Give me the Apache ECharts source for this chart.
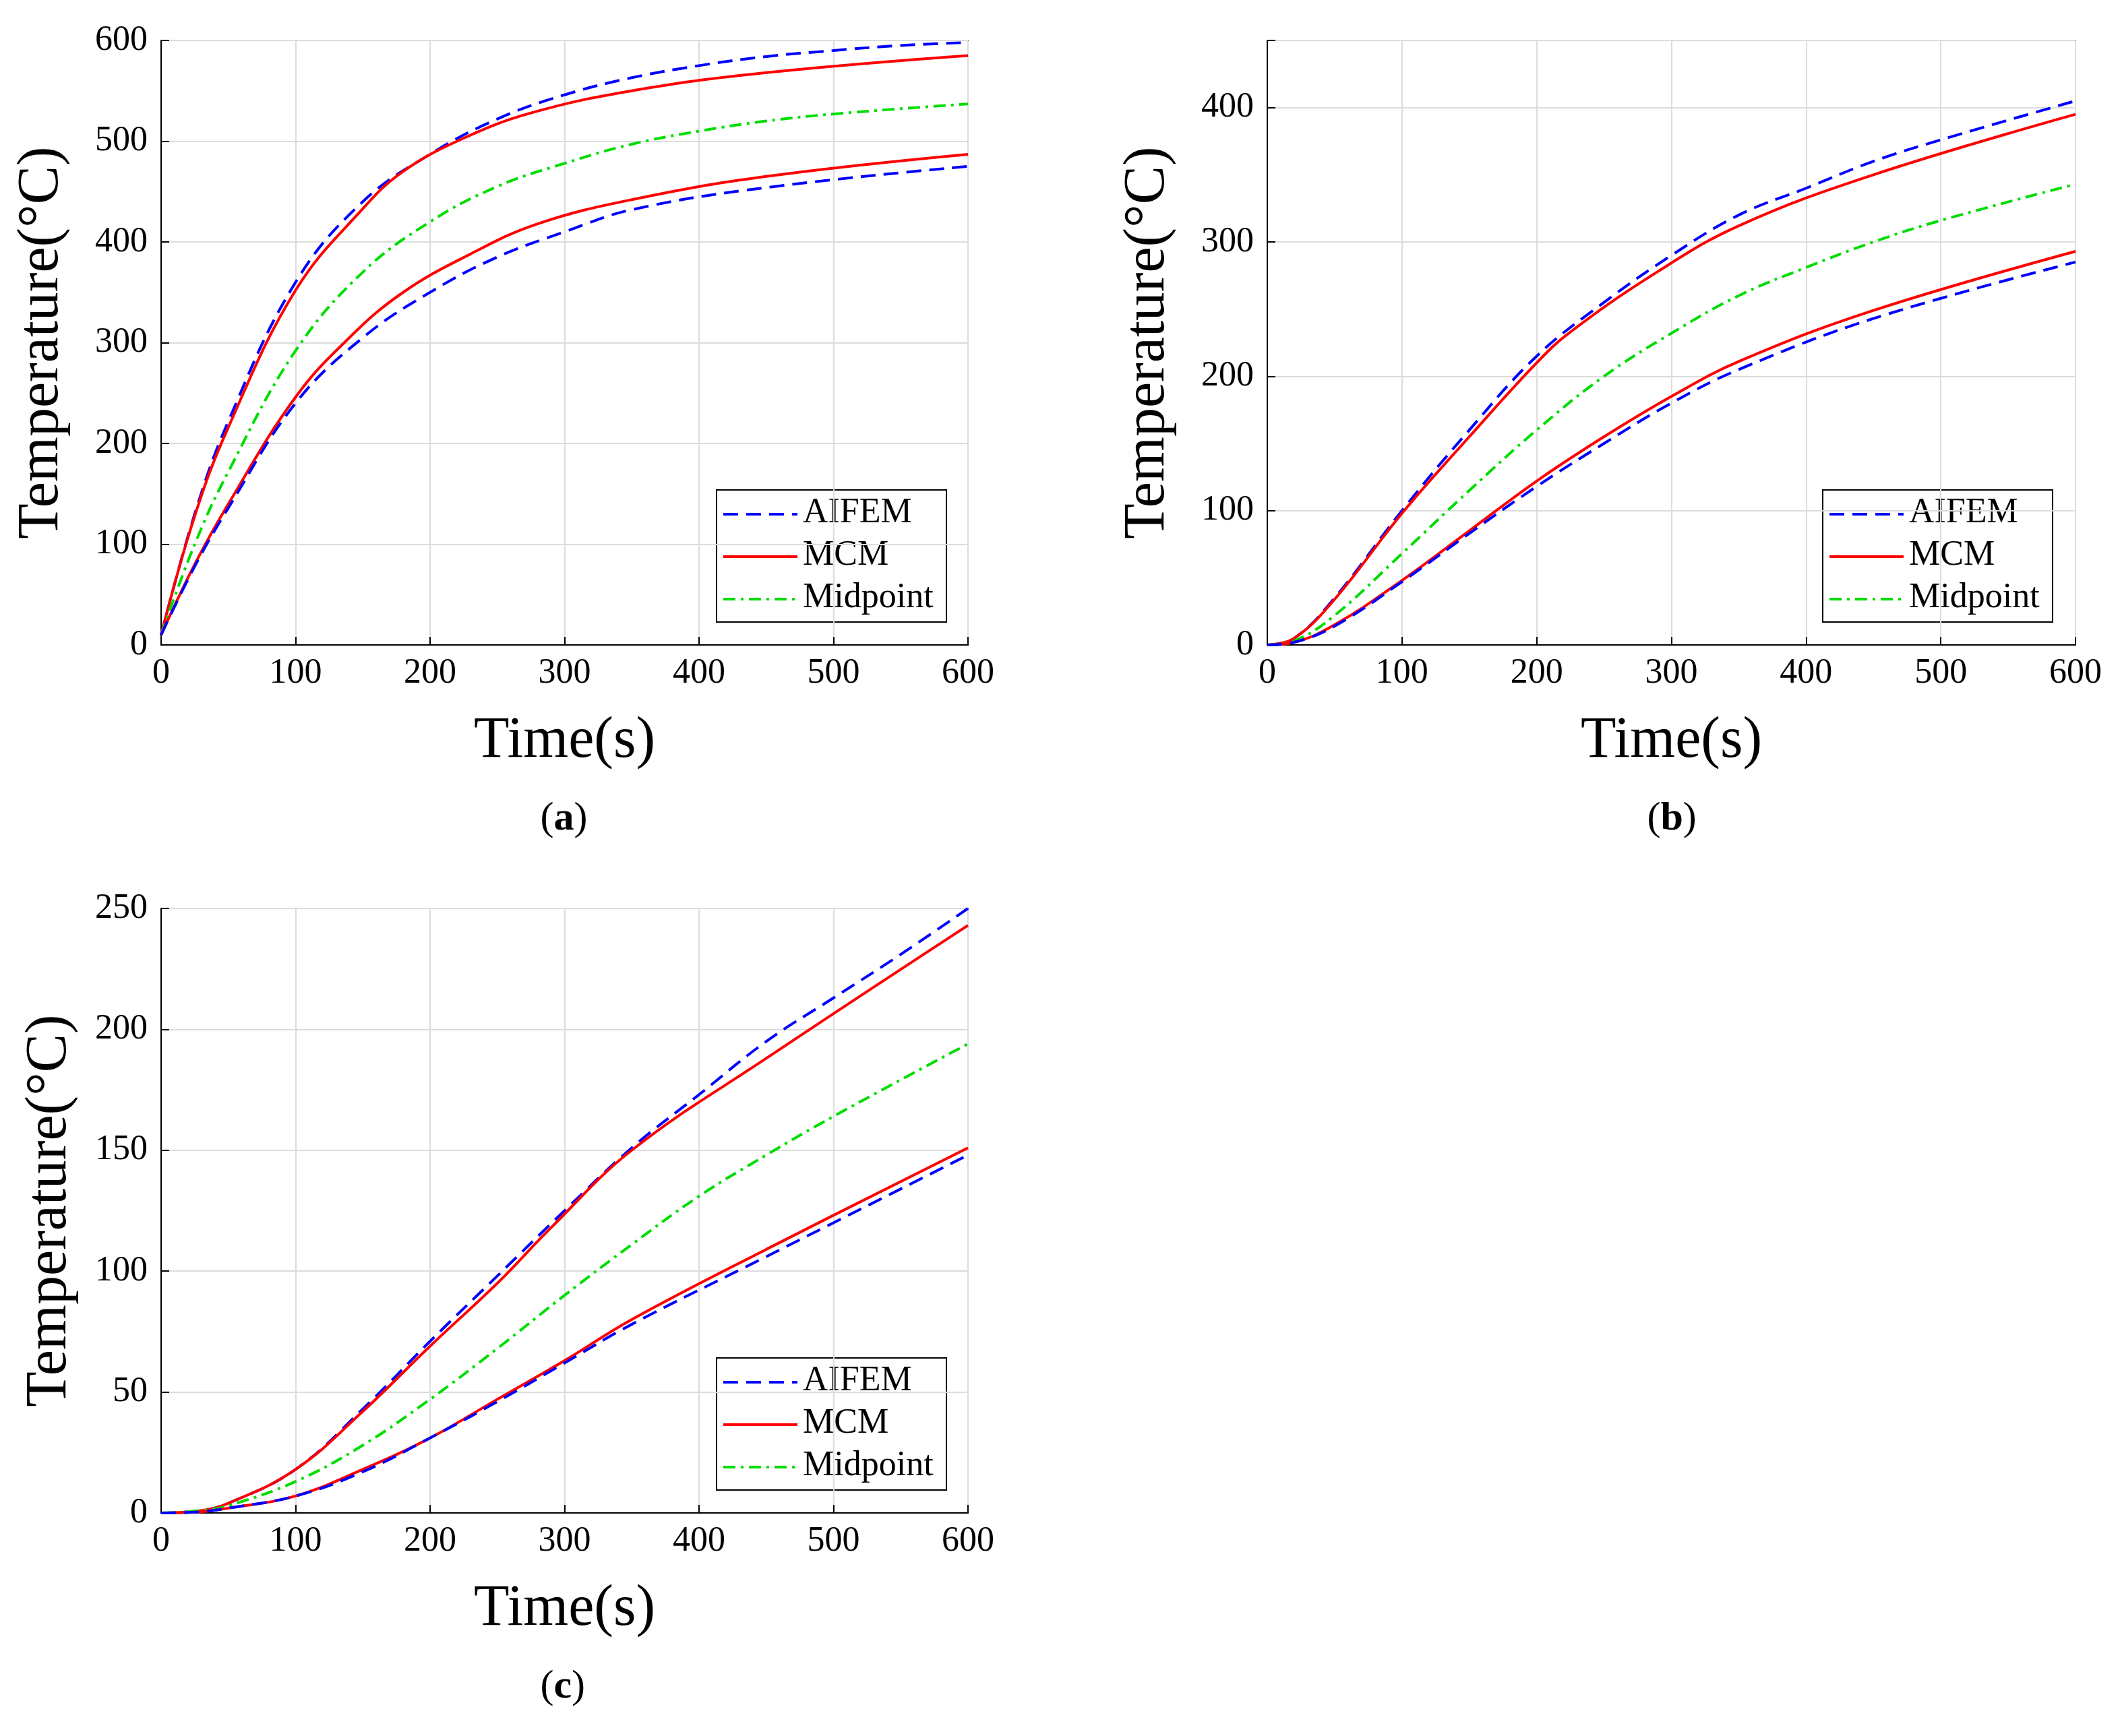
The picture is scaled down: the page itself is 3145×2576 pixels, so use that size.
<!DOCTYPE html>
<html>
<head>
<meta charset="utf-8">
<title>Temperature vs time</title>
<script src="https://cdn.jsdelivr.net/npm/echarts@6/dist/echarts.min.js"></script>
<style>
  html, body { margin: 0; background: #fff; }
  #chart { width: 3145px; height: 2576px; }
</style>
</head>
<body>
<div id="chart"></div>
<script>
// panel (a)
var aAifemUp = [[0,10],[25,130],[50,222],[100,360],[150,440],[200,487],[250,522],[300,546],[350,563],[400,575],[450,584],[500,590],[550,595],[600,598]];
var aMcmUp   = [[0,10],[25,128],[50,216],[100,352],[150,433],[180,470],[225,503],[275,528],[350,550],[450,568],[600,585]];
var aMid     = [[0,10],[25,100],[50,172],[100,292],[150,370],[200,420],[250,455],[300,478],[350,497],[400,510],[450,520],[500,527],[600,537]];
var aMcmLow  = [[0,10],[25,80],[50,140],[100,246],[140,305],[180,350],[230,388],[280,418],[350,442],[450,465],[600,487]];
var aAifemLow= [[0,10],[25,78],[50,136],[100,240],[150,305],[200,350],[250,385],[300,410],[350,432],[450,454],[600,475]];
// panel (b)
var bAifemUp = [[0,0],[20,5],[50,35],[100,100],[150,160],[200,215],[250,255],[300,290],[350,320],[400,340],[450,360],[500,376],[600,405]];
var bMcmUp   = [[0,0],[20,5],[50,34],[100,98],[150,155],[200,210],[225,233],[290,278],[350,312],[450,350],[600,395]];
var bMid     = [[0,0],[20,3],[50,22],[100,68],[150,115],[200,160],[250,200],[300,232],[350,260],[400,281],[450,300],[500,316],[600,343]];
var bMcmLow  = [[0,0],[20,2],[50,15],[100,48],[150,85],[200,122],[250,155],[300,185],[350,211],[450,249],[600,293]];
var bAifemLow= [[0,0],[20,2],[50,14],[100,47],[150,83],[200,118],[250,150],[300,180],[350,205],[450,243],[600,285]];
// panel (c)
var cAifemUp = [[0,0],[30,1],[50,4],[100,18],[150,43],[200,71],[250,98],[300,125],[350,151],[400,173],[450,195],[500,213],[550,231],[600,250]];
var cMcmUp   = [[0,0],[30,1],[50,4],[100,18],[150,42],[200,69],[250,95],[290,118],[350,150],[450,188],[600,243]];
var cMid     = [[0,0],[30,1],[50,3],[100,13],[150,28],[200,47],[250,68],[300,90],[350,111],[400,131],[450,148],[500,164],[600,194]];
var cMcmLow  = [[0,0],[30,0.5],[50,2],[100,7],[150,18],[200,31],[250,47],[300,63],[350,80],[450,109],[600,151]];
var cAifemLow= [[0,0],[30,0.5],[50,2],[100,7],[150,17],[200,31],[250,46],[300,62],[350,78],[450,106],[600,148]];
var yMax = [600, 450, 250];
var yStep = [100, 100, 50];
var legendNames = ['AIFEM', 'MCM', 'Midpoint'];

var font = 'Liberation Serif';
var grids = [
  {left: 239, top: 60, width: 1197, height: 897},
  {left: 1880, top: 60, width: 1199, height: 897},
  {left: 239, top: 1348, width: 1197, height: 897}
];
var panels = [
  [aAifemUp, aMcmUp, aMid, aMcmLow, aAifemLow],
  [bAifemUp, bMcmUp, bMid, bMcmLow, bAifemLow],
  [cAifemUp, cMcmUp, cMid, cMcmLow, cAifemLow]
];
var styles = [
  {name: 'AIFEM', color: '#0000ff', type: [22, 12]},
  {name: 'MCM', color: '#ff0000', type: 'solid'},
  {name: 'Midpoint', color: '#00dd00', type: [18, 8, 4, 8]},
  {name: 'MCM', color: '#ff0000', type: 'solid'},
  {name: 'AIFEM', color: '#0000ff', type: [22, 12]}
];

var xAxis = [], yAxis = [], series = [], graphic = [];
var letters = ['a', 'b', 'c'];
grids.forEach(function (g, i) {
  g.show = true; g.borderColor = '#000'; g.borderWidth = 2;
  var top = yMax[i];
  xAxis.push({
    type: 'value', gridIndex: i, min: 0, max: 600, interval: 100,
    name: 'Time(s)', nameLocation: 'middle', nameGap: 100,
    nameTextStyle: {fontFamily: font, fontSize: 86, color: '#000'},
    axisLine: {lineStyle: {color: '#000', width: 2}},
    axisTick: {inside: true, length: 12, lineStyle: {color: '#000', width: 2}},
    axisLabel: {fontFamily: font, fontSize: 52, color: '#000', margin: 16},
    splitLine: {lineStyle: {color: '#dcdcdc', width: 2}}
  });
  yAxis.push({
    type: 'value', gridIndex: i, min: 0, max: top, interval: yStep[i],
    name: 'Temperature(°C)', nameLocation: 'middle', nameGap: i === 2 ? 122 : 134,
    nameTextStyle: {fontFamily: font, fontSize: 86, color: '#000'},
    axisLine: {lineStyle: {color: '#000', width: 2}},
    axisTick: {inside: true, length: 12, lineStyle: {color: '#000', width: 2}},
    axisLabel: {fontFamily: font, fontSize: 52, color: '#000', margin: 20,
      formatter: function (v) { return (v === top && top % 100 !== 0 && top !== 250) ? '' : v; }},
    splitLine: {lineStyle: {color: '#dcdcdc', width: 2}}
  });
  panels[i].forEach(function (d, k) {
    var s = styles[k];
    series.push({
      type: 'line', name: s.name, xAxisIndex: i, yAxisIndex: i, data: d,
      smooth: 0.4, symbol: 'none', color: s.color,
      lineStyle: {color: s.color, width: 4, type: s.type}
    });
  });
  // legend box drawn as graphics
  var lx = g.left + 823, ly = g.top + 666;
  var kids = [{type: 'rect', shape: {x: 0, y: 0, width: 341, height: 196},
    style: {fill: '#fff', stroke: '#000', lineWidth: 2}}];
  legendNames.forEach(function (n, k) {
    var s = styles[k], yy = 36 + k * 63;
    kids.push({type: 'line', shape: {x1: 10, y1: yy, x2: 120, y2: yy},
      style: {stroke: s.color, lineWidth: 4, lineDash: s.type === 'solid' ? null : s.type}});
    kids.push({type: 'text', x: 128, y: yy - 28,
      style: {text: n, font: '52px "Liberation Serif"', fill: '#000'}});
  });
  graphic.push({type: 'group', left: lx, top: ly, z: 100, children: kids});
  graphic.push({
    type: 'text',
    left: g.left + g.width / 2 - 36,
    top: g.top + 1125,
    style: {
      text: '({b|' + letters[i] + '})',
      font: '60px "Liberation Serif"', fill: '#000',
      rich: {b: {fontFamily: font, fontSize: 60, fontWeight: 'bold', fill: '#000'}}
    }
  });
});

var chart = echarts.init(document.getElementById('chart'));
chart.setOption({
  animation: false,
  backgroundColor: '#fff',
  grid: grids, xAxis: xAxis, yAxis: yAxis,
  series: series, graphic: graphic
});
</script>
</body>
</html>
